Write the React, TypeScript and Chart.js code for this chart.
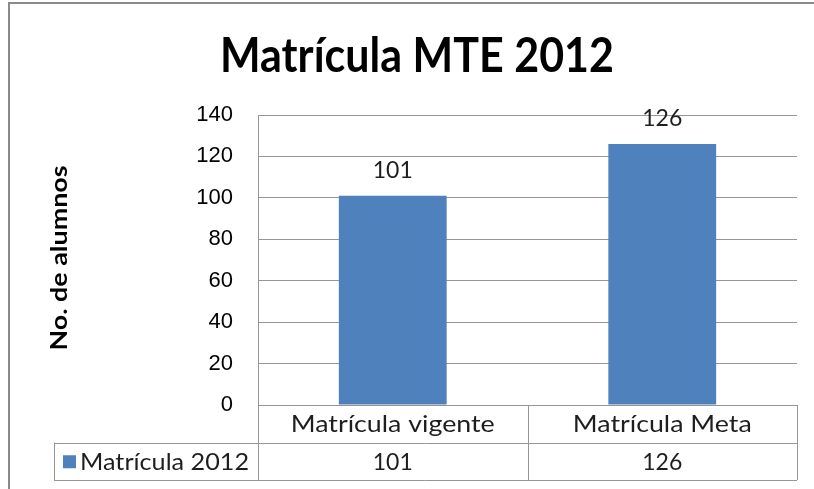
import React, { useEffect, useRef } from "react";
import { Chart, registerables } from "chart.js";

Chart.register(...registerables);

const chartTitle = "Matrícula MTE 2012";
const yAxisTitle = "No. de alumnos";
const categories = ["Matrícula vigente", "Matrícula Meta"];
const seriesName = "Matrícula 2012";
const values = [101, 126];
const yMin = 0;
const yMax = 140;
const yStep = 20;

const BAR_COLOR = "#4F81BD";
const LINE_COLOR = "#969696";
const TEXT_COLOR = "#1e1e1e";
const SANS = "Lato, 'Open Sans', sans-serif";
const CAL = "'Liberation Sans', Arial, sans-serif";

function fitText(
  ctx: CanvasRenderingContext2D,
  text: string,
  x: number,
  y: number,
  width: number,
  align: "center" | "left" = "center"
) {
  const w = ctx.measureText(text).width;
  const sx = w > 0 ? width / w : 1;
  ctx.save();
  ctx.translate(x, y);
  ctx.scale(sx, 1);
  ctx.textAlign = align;
  ctx.fillText(text, 0, 0);
  ctx.restore();
}

const decorPlugin = {
  id: "decor",
  afterDraw(chart: any) {
    const ctx: CanvasRenderingContext2D = chart.ctx;
    const area = chart.chartArea;
    const xs = chart.scales.x;
    ctx.save();

    // outer frame
    ctx.strokeStyle = "#8a8a8a";
    ctx.lineWidth = 2;
    ctx.beginPath();
    ctx.moveTo(9, chart.height);
    ctx.lineTo(9, 3);
    ctx.lineTo(chart.width, 3);
    ctx.stroke();

    // title
    ctx.fillStyle = "#000";
    ctx.font = `bold 47px ${SANS}`;
    ctx.textBaseline = "alphabetic";
    fitText(ctx, chartTitle, 417, 72, 394);

    // y axis title
    ctx.save();
    ctx.translate(67, 258);
    ctx.rotate(-Math.PI / 2);
    ctx.font = `bold 22px ${SANS}`;
    ctx.textBaseline = "alphabetic";
    fitText(ctx, yAxisTitle, 0, 0, 185);
    ctx.restore();

    // data labels above bars
    const meta = chart.getDatasetMeta(0);
    ctx.font = `23px ${SANS}`;
    ctx.fillStyle = TEXT_COLOR;
    ctx.textBaseline = "middle";
    ctx.textAlign = "center";
    meta.data.forEach((bar: any, i: number) => {
      ctx.fillText(String(values[i]), bar.x, bar.y - 25);
    });

    // data table
    const rowH = 37.5;
    const top = area.bottom;
    const r1 = top + rowH;
    const r2 = r1 + rowH;
    const legendLeft = 54;
    const n = categories.length;
    const bounds: number[] = [area.left];
    for (let i = 0; i < n - 1; i++) {
      bounds.push((xs.getPixelForValue(i) + xs.getPixelForValue(i + 1)) / 2);
    }
    bounds.push(area.right);

    ctx.strokeStyle = LINE_COLOR;
    ctx.lineWidth = 1;
    ctx.beginPath();
    ctx.moveTo(area.left, Math.round(top) + 0.5);
    ctx.lineTo(area.right, Math.round(top) + 0.5);
    ctx.moveTo(legendLeft, Math.round(r1) + 0.5);
    ctx.lineTo(area.right, Math.round(r1) + 0.5);
    ctx.moveTo(legendLeft, Math.round(r2) + 0.5);
    ctx.lineTo(area.right, Math.round(r2) + 0.5);
    bounds.forEach((b) => {
      ctx.moveTo(Math.round(b) + 0.5, top);
      ctx.lineTo(Math.round(b) + 0.5, r2);
    });
    ctx.moveTo(legendLeft + 0.5, r1);
    ctx.lineTo(legendLeft + 0.5, r2);
    ctx.stroke();

    ctx.fillStyle = TEXT_COLOR;
    ctx.textBaseline = "middle";
    ctx.font = `23px ${SANS}`;
    const catScale = 204 / ctx.measureText(categories[0]).width;
    categories.forEach((c, i) => {
      const cx = xs.getPixelForValue(i);
      const w = ctx.measureText(c).width * catScale;
      fitText(ctx, c, cx, top + rowH / 2 + 1, w);
      ctx.textAlign = "center";
      ctx.fillText(String(values[i]), cx, r1 + rowH / 2 + 1);
    });

    // legend cell
    ctx.fillStyle = BAR_COLOR;
    ctx.fillRect(63, r1 + rowH / 2 - 6, 13, 13);
    ctx.fillStyle = TEXT_COLOR;
    ctx.font = `23px ${SANS}`;
    fitText(ctx, seriesName, 80, r1 + rowH / 2 + 1, 169, "left");

    ctx.restore();
  },
};

export default function App() {
  const ref = useRef<HTMLCanvasElement | null>(null);

  useEffect(() => {
    document.body.style.margin = "0";
    const canvas = ref.current;
    if (!canvas) return;
    const chart = new Chart(canvas, {
      type: "bar",
      data: {
        labels: categories,
        datasets: [
          {
            label: seriesName,
            data: values,
            backgroundColor: BAR_COLOR,
            borderWidth: 0,
            categoryPercentage: 1,
            barPercentage: 0.4,
          },
        ],
      },
      options: {
        responsive: false,
        animation: false,
        devicePixelRatio: 1,
        layout: { padding: { left: 0, right: 17, top: 115, bottom: 84 } },
        plugins: {
          legend: { display: false },
          title: { display: false },
          tooltip: { enabled: false },
        },
        scales: {
          x: { display: false },
          y: {
            min: yMin,
            max: yMax,
            ticks: {
              stepSize: yStep,
              padding: 25,
              color: "#000",
              font: { family: CAL, size: 22 },
            },
            grid: { color: LINE_COLOR, drawTicks: false },
            border: { display: true, color: LINE_COLOR },
            afterFit: (scale: any) => {
              scale.width = 258;
            },
          },
        },
      },
      plugins: [decorPlugin],
    });
    return () => chart.destroy();
  }, []);

  return (
    <div style={{ width: 814, height: 489, background: "#fff" }}>
      <canvas ref={ref} width={814} height={489} style={{ display: "block" }} />
    </div>
  );
}
